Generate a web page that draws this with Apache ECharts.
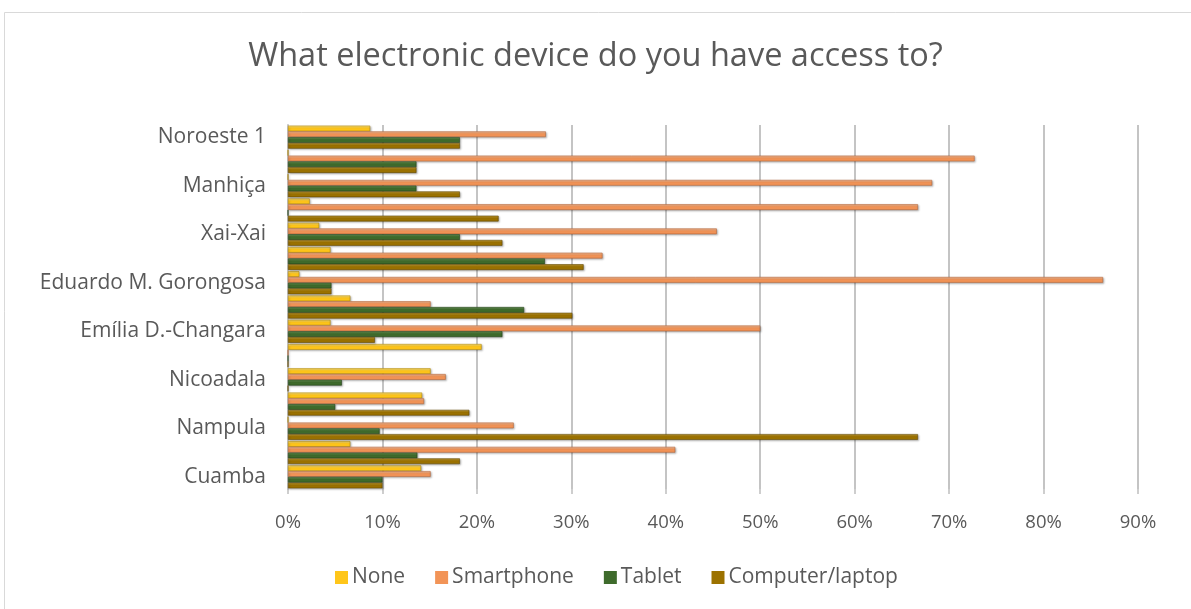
<!DOCTYPE html>
<html>
<head>
<meta charset="utf-8">
<script src="https://cdn.jsdelivr.net/npm/echarts@6/dist/echarts.min.js"></script>
<style>
html,body{margin:0;padding:0;background:#fff;}
#chart{width:1191px;height:609px;}
</style>
</head>
<body>
<div id="chart"></div>
<script>
// Categories from bottom to top (unlabeled categories left blank as in the reference)
const categories = ['Cuamba', '', 'Nampula', '', 'Nicoadala', '', 'Emília D.-Changara', '', 'Eduardo M. Gorongosa', '', 'Xai-Xai', '', 'Manhiça', '', 'Noroeste 1'];
const seriesNames = ['None', 'Smartphone', 'Tablet', 'Computer/laptop'];
const noneVals       = [14.1,  6.6,  0,    14.2, 15.1, 20.5, 4.5,  6.6,  1.2,  4.5,  3.3,  2.3,  0,    0,    8.7];
const smartphoneVals = [15.1, 41.0, 23.9, 14.4, 16.7,  0,   50.0, 15.1, 86.3, 33.3, 45.4, 66.7, 68.2, 72.7, 27.3];
const tabletVals     = [10.0, 13.7,  9.7,  5.0,  5.7,  0,   22.7, 25.0,  4.6, 27.2, 18.2,  0,   13.6, 13.6, 18.2];
const computerVals   = [10.0, 18.2, 66.7, 19.2,  0,    0,    9.2, 30.1,  4.6, 31.3, 22.7, 22.3, 18.2, 13.6, 18.2];
const xTicks = [0, 10, 20, 30, 40, 50, 60, 70, 80, 90];

const colors = ['#FFC61A', '#F29457', '#3F6B2C', '#9C7200'];
const lightColors = ['#FFE98A', '#F9C3A0', '#6E9A5A', '#C9A33A'];
const borderColors = ['#B88E0C', '#B8683A', '#24431A', '#654A00'];
const dataSets = [noneVals, smartphoneVals, tabletVals, computerVals];

const chart = echarts.init(document.getElementById('chart'));
const FONT = 'Open Sans';
const option = {
  animation: false,
  backgroundColor: '#fff',
  title: {
    text: 'What electronic device do you have access to?',
    left: 'center',
    top: 35,
    textStyle: { fontFamily: FONT, fontSize: 32.5, fontWeight: 'normal', color: '#595959' }
  },
  graphic: [{
    type: 'rect',
    shape: { x: 4.5, y: 12.5, width: 1300, height: 700 },
    style: { fill: 'none', stroke: '#D9D9D9', lineWidth: 1 },
    silent: true
  }],
  legend: {
    bottom: 16,
    left: 330,
    itemWidth: 13,
    itemHeight: 13,
    itemGap: 30,
    icon: 'rect',
    textStyle: { fontFamily: FONT, fontSize: 21, color: '#595959', padding: [0, 0, 0, -1] },
    data: seriesNames
  },
  grid: { left: 288, right: 53, top: 125, bottom: 120, containLabel: false },
  xAxis: {
    type: 'value',
    min: xTicks[0],
    max: xTicks[xTicks.length - 1],
    interval: 10,
    axisLine: { show: false },
    axisTick: { show: true, length: 5, lineStyle: { color: '#BFBFBF', width: 1.5 } },
    splitLine: { show: true, lineStyle: { color: '#C4C4C4', width: 2 } },
    axisLabel: { formatter: '{value}%', fontFamily: FONT, fontSize: 18.5, color: '#595959', margin: 24 }
  },
  yAxis: {
    type: 'category',
    data: categories,
    axisLine: { show: true, lineStyle: { color: '#C4C4C4', width: 2 } },
    axisTick: { show: false },
    axisLabel: { interval: 0, fontFamily: FONT, fontSize: 21, color: '#595959', margin: 22 }
  },
  series: seriesNames.map((name, i) => ({
    name: name,
    type: 'bar',
    barGap: '0%',
    barCategoryGap: '5%',
    data: dataSets[i],
    itemStyle: {
      color: new echarts.graphic.LinearGradient(0, 0, 0, 1, [
        { offset: 0, color: lightColors[i] },
        { offset: 0.45, color: colors[i] },
        { offset: 1, color: colors[i] }
      ]),
      borderColor: borderColors[i],
      borderWidth: 0.6,
      shadowColor: 'rgba(0,0,0,0.3)',
      shadowBlur: 2,
      shadowOffsetX: 1,
      shadowOffsetY: 1
    }
  }))
};
option.legend.data = seriesNames.map((n, i) => ({ name: n, itemStyle: { color: colors[i], borderWidth: 0, shadowBlur: 0, shadowOffsetX: 0, shadowOffsetY: 0 } }));
chart.setOption(option);
</script>
</body>
</html>
